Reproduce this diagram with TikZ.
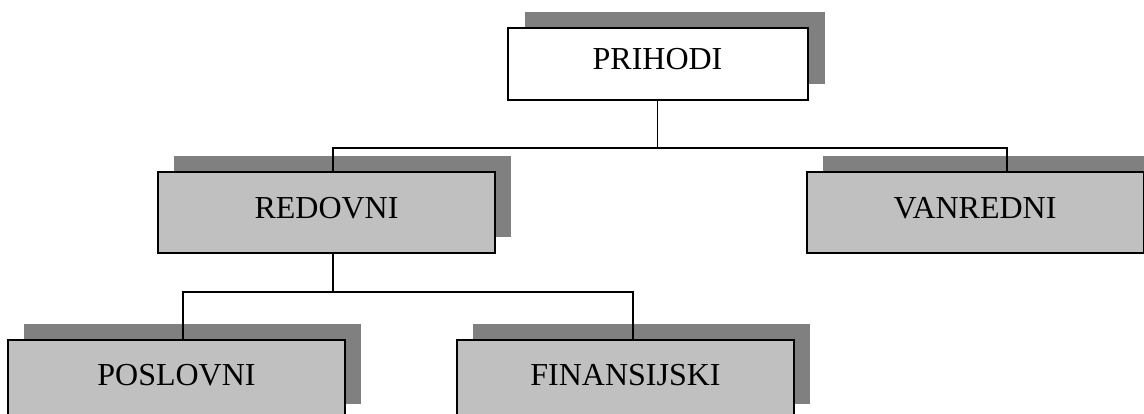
\documentclass[tikz,border=0pt]{standalone}
\usepackage{fontspec}
\setmainfont{Liberation Serif}
\usetikzlibrary{shadows, positioning}
\definecolor{boxgray}{RGB}{192,192,192}
\definecolor{shadowgray}{RGB}{128,128,128}
\tikzstyle{topbox} = [
    rectangle, minimum width=150pt, minimum height=36pt, text height=11pt, text depth=5.5pt,
    text centered, draw=black, line width=1pt, fill=white,
    drop shadow={shadow xshift=8.5pt, shadow yshift=8pt, fill=shadowgray, opacity=1}
]
\tikzstyle{grpbox} = [
    rectangle, minimum width=168.5pt, minimum height=40.5pt, text height=11pt, text depth=5.5pt,
    text centered, draw=black, line width=1pt, fill=boxgray,
    drop shadow={shadow xshift=8pt, shadow yshift=8pt, fill=shadowgray, opacity=1}
]
\tikzstyle{link} = [line width=0.75pt]
\begin{document}
\begin{tikzpicture}[
    x=0.5pt, y=-0.5pt,
    font=\fontsize{16}{19}\selectfont
]
\useasboundingbox (0,0) rectangle (1144,413);
\clip (0,0) rectangle (1144,413);

% Nivel 1
\node (prihodi)     [topbox]                        at (657.5,64)    {PRIHODI};

% Nivel 2
\node (redovni)     [grpbox]                        at (326.5,212.5) {REDOVNI};
\node (vanredni)    [grpbox]                        at (975,212.5)   {VANREDNI};

% Nivel 3
\node (poslovni)    [grpbox, minimum height=40pt]   at (176.5,380) {POSLOVNI};
\node (finansijski) [grpbox, minimum height=40pt]   at (625.5,380) {FINANSIJSKI};

% Linije
\coordinate (bar1) at (657.5,148);
\coordinate (bar2) at (333,292);
\draw [link] (prihodi.south) -- (bar1);
\draw [link] ([xshift=3.25pt]redovni.north) |- (bar1) -| ([xshift=16pt]vanredni.north);
\draw [link] ([xshift=3.25pt]redovni.south) -- (bar2);
\draw [link] ([xshift=3.25pt]poslovni.north) |- (bar2) -| ([xshift=3.75pt]finansijski.north);

\end{tikzpicture}
\end{document}
